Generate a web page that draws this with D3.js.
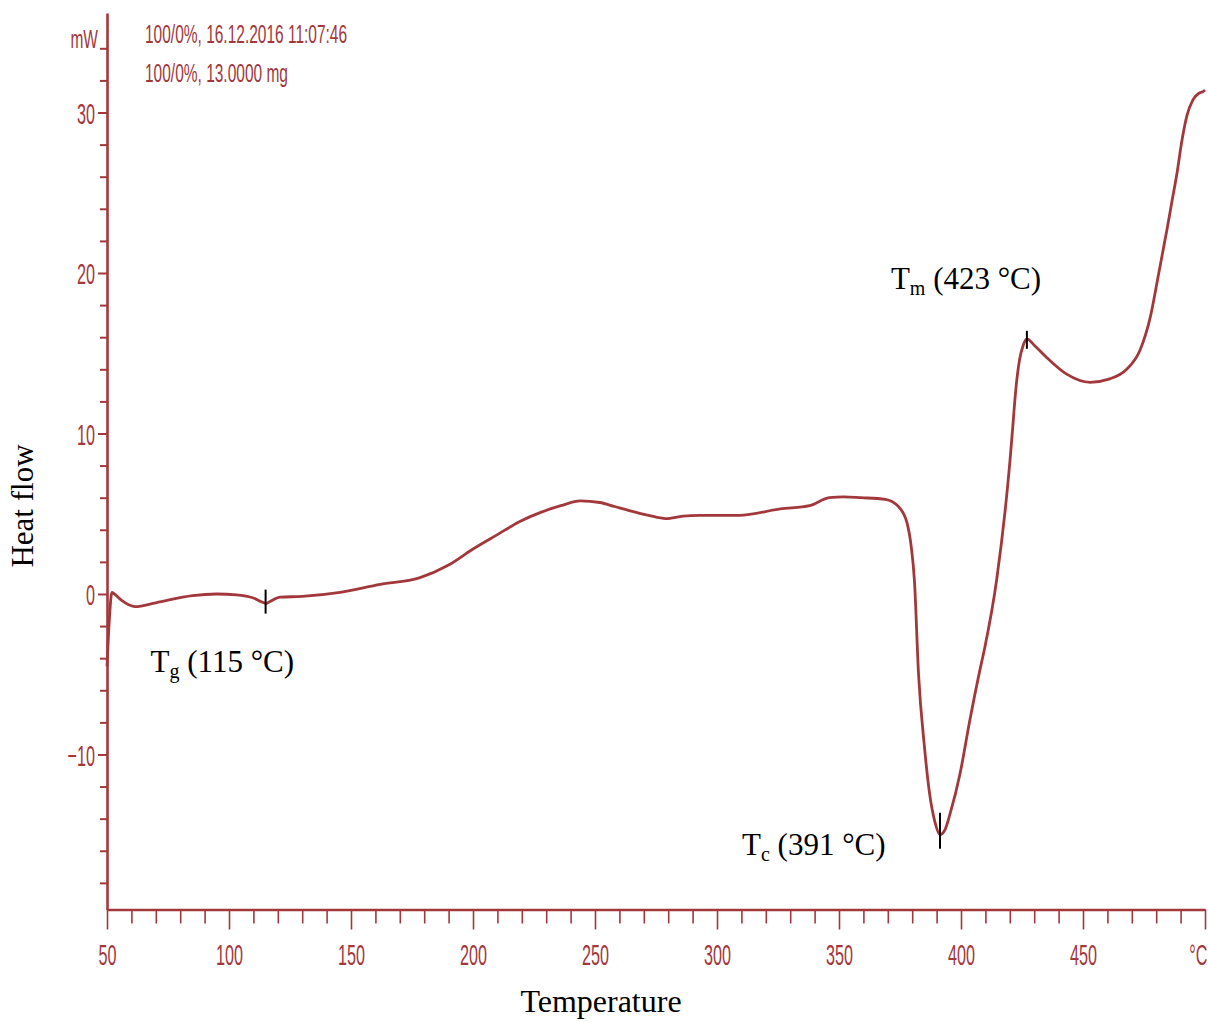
<!DOCTYPE html>
<html>
<head>
<meta charset="utf-8">
<script src="https://cdn.jsdelivr.net/npm/d3@7"></script>
<style>
  html, body { margin: 0; padding: 0; background: #fff; }
  svg { display: block; }
</style>
</head>
<body>
<svg id="chart" width="1208" height="1022"></svg>
<script>
// ---- data ----
const temperature = [50, 51, 52, 53, 56, 61.5, 70, 85, 95, 103, 110, 113.5, 115.2, 117, 121, 130, 145.5, 162, 178, 190,
  200, 210, 219, 228, 236, 244, 252, 258, 264, 272, 279, 286, 293, 309, 326, 338, 346, 352, 359, 369,
  374.4, 377.9, 379.6, 380.9, 382.6, 385, 387, 389.3, 391.4, 393.4, 395.5, 399.6, 403.7, 407.8, 409.8, 414.6,
  420.1, 421, 422.5, 424, 425.5, 427, 430, 435.1, 443.3, 452.9, 461, 467.9, 473.4, 477.5, 480.7, 482.8,
  484.4, 486.5, 488.5, 490.6, 492.6, 495.1, 497.5, 499.2, 500];
const heatFlow = [-4.5, -1.5, 0.1, 0.0, -0.4, -0.79, -0.55, -0.1, 0.0, -0.05, -0.25, -0.5, -0.6, -0.45, -0.2, -0.15, 0.1, 0.6, 1.0, 1.8,
  2.8, 3.7, 4.5, 5.1, 5.5, 5.8, 5.7, 5.45, 5.2, 4.9, 4.7, 4.85, 4.9, 4.9, 5.3, 5.5, 6.0, 6.05, 6.0, 5.9,
  5.44, 4.42, 2.95, 0.87, -5.0, -9.5, -12.3, -14.2, -15.0, -14.7, -13.7, -11.2, -7.8, -4.7, -3.3, 0.87,
  8.35, 10.0, 12.8, 14.6, 15.5, 15.9, 15.5, 14.74, 13.7, 13.19, 13.4, 14.0, 15.2, 17.2, 19.7, 21.4,
  22.7, 24.5, 26.2, 28.3, 29.8, 30.8, 31.2, 31.3, 31.4];

const xMajorTicks = [50, 100, 150, 200, 250, 300, 350, 400, 450, 500];
const xTickLabels = ["50", "100", "150", "200", "250", "300", "350", "400", "450", "°C"];
const yMajorTicks = [-10, 0, 10, 20, 30];
const yUnitLabel = "mW";
const yUnitTick = 34;
const headerLines = ["100/0%, 16.12.2016 11:07:46", "100/0%, 13.0000 mg"];

const annotations = [
  { name: "T", sub: "g", text: "(115 °C)", t: 115, v: -0.6 },
  { name: "T", sub: "c", text: "(391 °C)", t: 391.4, v: -15.0 },
  { name: "T", sub: "m", text: "(423 °C)", t: 427, v: 15.9 }
];

// ---- drawing ----
const red = "#a3383c";
const svg = d3.select("#chart");

const x = d3.scaleLinear().domain([50, 500]).range([107, 1205]);
const y = d3.scaleLinear().domain([-19.66, 36.2]).range([909.5, 13]);

const sx = 0.54; // horizontal compression of the instrument font
const tickFont = "'Liberation Sans', Arial, sans-serif";

// minor ticks
const xMinor = d3.range(50, 501, 10).filter(d => d % 50 !== 0);
const yMinor = d3.range(-18, 35, 2).filter(d => d % 10 !== 0);

// X axis minor
svg.append("g").attr("transform", `translate(0,${y.range()[0]})`)
  .call(d3.axisBottom(x).tickValues(xMinor).tickSize(14).tickSizeOuter(0).tickFormat(""))
  .call(g => g.select(".domain").remove())
  .call(g => g.selectAll("line").attr("stroke", red).attr("stroke-width", 1.6));

// X axis major
const gx = svg.append("g").attr("transform", `translate(0,${y.range()[0]})`)
  .call(d3.axisBottom(x).tickValues(xMajorTicks).tickSize(20).tickSizeOuter(0).tickPadding(17)
    .tickFormat((d, i) => xTickLabels[i]));
gx.select(".domain").attr("stroke", red).attr("stroke-width", 2.6);
gx.selectAll("line").attr("stroke", red).attr("stroke-width", 1.6);
gx.selectAll("text").attr("fill", red).attr("font-family", tickFont).attr("font-size", 30)
  .attr("transform", `scale(${sx},1)`).attr("dy", "0.62em")
  .filter(d => d === 500).attr("text-anchor", "end").attr("x", 2 / sx);

// Y axis minor
svg.append("g").attr("transform", `translate(${x.range()[0]},0)`)
  .call(d3.axisLeft(y).tickValues(yMinor).tickSize(7).tickSizeOuter(0).tickFormat(""))
  .call(g => g.select(".domain").remove())
  .call(g => g.selectAll("line").attr("stroke", red).attr("stroke-width", 2));

// Y axis major
const gy = svg.append("g").attr("transform", `translate(${x.range()[0]},0)`)
  .call(d3.axisLeft(y).tickValues(yMajorTicks).tickSize(9).tickSizeOuter(0).tickPadding(3)
    .tickFormat(d3.format("d")));
gy.select(".domain").attr("stroke", red).attr("stroke-width", 2.6);
gy.selectAll("line").attr("stroke", red).attr("stroke-width", 2);
gy.selectAll("text").attr("fill", red).attr("font-family", tickFont).attr("font-size", 30)
  .attr("x", -12 / sx).attr("transform", `scale(${sx},1)`).attr("dy", "0.36em");

// mW unit label at the top tick
svg.append("text")
  .attr("transform", `translate(${x.range()[0] - 9},${y(yUnitTick)}) scale(0.62,1)`)
  .attr("text-anchor", "end").attr("fill", red).attr("font-family", tickFont).attr("font-size", 25)
  .text(yUnitLabel);

// header lines
headerLines.forEach((s, i) => {
  svg.append("text")
    .attr("transform", `translate(145,${43 + i * 39}) scale(0.62,1)`)
    .attr("fill", red).attr("font-family", tickFont).attr("font-size", 25)
    .text(s);
});

// curve
const data = temperature.map((t, i) => ({ t, v: heatFlow[i] }));
svg.append("path")
  .datum(data)
  .attr("fill", "none")
  .attr("stroke", red)
  .attr("stroke-width", 2.8)
  .attr("stroke-linejoin", "round")
  .attr("d", d3.line().x(d => x(d.t)).y(d => y(d.v)).curve(d3.curveMonotoneX));

// annotations
const serif = "'Liberation Serif', 'Times New Roman', serif";
const labelPos = [
  { dx: -115, dy: 68, anchor: "start", tick: [-14, 10] },
  { dx: -198, dy: 20, anchor: "start", tick: [-22, 14] },
  { dx: -136, dy: -50, anchor: "start", tick: [-8, 10] }
];
annotations.forEach((a, i) => {
  const px = x(a.t), py = y(a.v), p = labelPos[i];
  svg.append("line")
    .attr("x1", px).attr("x2", px)
    .attr("y1", py + p.tick[0]).attr("y2", py + p.tick[1])
    .attr("stroke", "#000").attr("stroke-width", 2);
  const t = svg.append("text")
    .attr("x", px + p.dx).attr("y", py + p.dy)
    .attr("font-family", serif).attr("font-size", 31).attr("fill", "#000");
  t.append("tspan").text(a.name);
  t.append("tspan").attr("font-size", 20).attr("dy", 6).text(a.sub);
  t.append("tspan").attr("dy", -6).text(" " + a.text);
});

// axis titles
svg.append("text")
  .attr("transform", "translate(33,506) rotate(-90)")
  .attr("text-anchor", "middle").attr("font-family", serif).attr("font-size", 31).attr("fill", "#000")
  .text("Heat flow");
svg.append("text")
  .attr("x", 601).attr("y", 1012)
  .attr("text-anchor", "middle").attr("font-family", serif).attr("font-size", 32).attr("fill", "#000")
  .text("Temperature");
</script>
</body>
</html>
